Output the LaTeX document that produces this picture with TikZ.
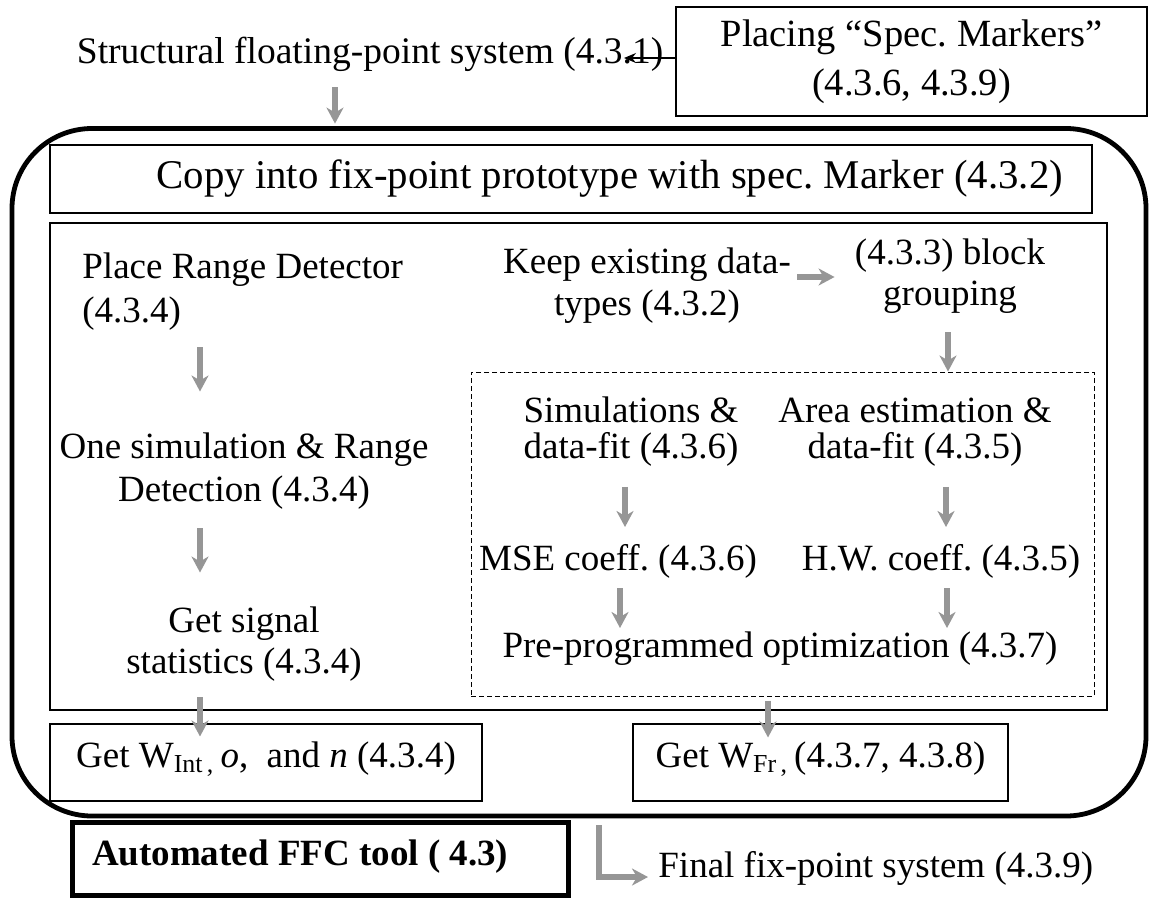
\documentclass[tikz,border=0pt]{standalone}
\usepackage{fontspec}
\setmainfont{Liberation Serif}
\usetikzlibrary{arrows.meta}
\definecolor{flowgray}{RGB}{150,150,150}
% one- or two-line labels whose base is the first baseline
\newcommand\stk[1]{\begin{tabular}[t]{@{}c@{}}#1\end{tabular}}
\newcommand\stkl[1]{\begin{tabular}[t]{@{}l@{}}#1\end{tabular}}
\newcommand\bodyfs[1]{\fontsize{18.5}{#1}\selectfont}
\frenchspacing

\begin{document}
\begin{tikzpicture}[x=0.5pt,y=-0.5pt,
  lbl/.style={inner sep=0pt, font=\bodyfs{22}},
  frame/.style={draw, line width=0.55pt, inner sep=0pt},
  flow/.style={draw=flowgray, line width=2.8pt,
    -{Stealth[length=8pt,width=8.5pt,inset=2.5pt]}},
  pointer/.style={draw, line width=0.6pt, -{Stealth[length=6pt,width=5pt]}}]
\useasboundingbox (0,0) rectangle (1149,900);

% arrow columns and rows
\coordinate (cS) at (335,0);
\coordinate (cL) at (200,0);
\coordinate (cG) at (948,0);
\coordinate (cM) at (625,0);
\coordinate (cA) at (946,0);
\coordinate (cP) at (620,0);
\coordinate (cH) at (947,0);
\coordinate (cW) at (768,0);
\coordinate (cF) at (599,0);
\coordinate (rK) at (0,277);
\coordinate (markin) at (624,58);

% input system and marker box
\node[lbl, anchor=base west, font=\fontsize{18.75}{22}\selectfont] (struct) at (76.5,63)
  {Structural floating-point system (4.3.1)};
\node[frame, line width=0.75pt, minimum width=235.5pt, minimum height=54.5pt,
  font=\fontsize{19.25}{24.5}\selectfont] (place) at (911.5,61.5)
  {\stk{Placing “Spec. Markers”\\(4.3.6, 4.3.9)}};

% the tool frame and its inner boxes
\node[draw, line width=2.4pt, rounded corners=40pt, inner sep=0pt,
  minimum width=567pt, minimum height=343.75pt] (tool) at (579,472.25) {};
\node[frame, minimum width=521pt, minimum height=34pt, text width=492pt, align=flush right,
  inner xsep=14.5pt, text height=13pt, text depth=4pt,
  font=\fontsize{20.4}{24}\selectfont] (copy) at (571,179)
  {Copy into fix-point prototype with spec. Marker (4.3.2)};
\node[frame, minimum width=528.5pt, minimum height=243.5pt] (work) at (578.5,466.5) {};
\node[frame, line width=0.5pt, dash pattern=on 2.5pt off 1.5pt,
  minimum width=311.5pt, minimum height=162pt] (opt) at (782.5,534) {};
\node[frame, minimum width=216pt, minimum height=38.5pt, text height=11pt, text depth=6.5pt,
  font=\bodyfs{22}] (wint) at (266,762.5)
  {Get W\textsubscript{Int\,,}\,\textit{o},\ \ and \textit{n} (4.3.4)};
\node[frame, minimum width=187.5pt, minimum height=38.5pt, text height=11pt, text depth=6.5pt,
  font=\bodyfs{22}] (wfr) at (820.5,762.5)
  {Get W\textsubscript{Fr\,,}\,(4.3.7, 4.3.8)};
\node[draw, line width=2.5pt, inner sep=0pt, minimum width=248pt, minimum height=36.5pt,
  text width=228pt, align=flush left, inner xsep=10pt, text height=12pt, text depth=5.5pt,
  font=\bodyfs{22}\bfseries] (ffc) at (320,858.5) {Automated FFC tool ( 4.3)};

% step labels
\node[lbl, anchor=base west, font=\bodyfs{22}] (range) at (82,278)
  {\stkl{Place Range Detector\\(4.3.4)}};
\node[lbl, anchor=base, font=\bodyfs{21.5}] (onesim) at (244,458)
  {\stk{One simulation \& Range\\Detection (4.3.4)}};
\node[lbl, anchor=base, font=\bodyfs{20.5}] (signal) at (244,632)
  {\stk{Get signal\\statistics (4.3.4)}};
\node[lbl, anchor=base, font=\bodyfs{21}] (keep) at (647,273)
  {\stk{Keep existing data-\\types (4.3.2)}};
\node[lbl, anchor=base, font=\bodyfs{20.5}] (group) at (950,264)
  {\stk{(4.3.3) block\\grouping}};
\node[lbl, anchor=base, font=\bodyfs{17.5}] (simul) at (631,422)
  {\stk{Simulations \&\\data-fit (4.3.6)}};
\node[lbl, anchor=base, font=\bodyfs{17.5}] (area) at (915,422)
  {\stk{Area estimation \&\\data-fit (4.3.5)}};
\node[lbl, anchor=base] (mse) at (618,570) {MSE coeff. (4.3.6)};
\node[lbl, anchor=base] (hw) at (941,570) {H.W. coeff. (4.3.5)};
\node[lbl, anchor=base] (pre) at (780,657) {Pre-programmed optimization (4.3.7)};
\node[lbl, anchor=base west] (final) at (658,877) {Final fix-point system (4.3.9)};

% connectors
\draw[pointer] (place.west |- markin) -- (markin);
\draw[flow] ([yshift=-12pt]struct.base -| cS) -- ([yshift=1.25pt]tool.north -| cS);
\draw[flow] ([yshift=-5.9pt]range.south -| cL) -- ([yshift=18pt]onesim.north -| cL);
\draw[flow] ([yshift=-7pt]onesim.south -| cL) -- ([yshift=15.2pt]signal.north -| cL);
\draw[flow] ([yshift=-5.85pt]signal.south -| cL) -- ([yshift=-6.5pt]wint.north -| cL);
\draw[flow] ([xshift=3pt]keep.east |- rK) -- ([xshift=-10pt]group.west |- rK);
\draw[flow] ([yshift=-7.35pt]group.south -| cG) -- (opt.north -| cG);
\draw[flow] ([yshift=-8.75pt]simul.south -| cM) -- ([yshift=21.5pt]mse.base -| cM);
\draw[flow] ([yshift=-8.75pt]area.south -| cA) -- ([yshift=21.5pt]hw.base -| cA);
\draw[flow] ([yshift=-9pt]mse.base -| cP) -- ([yshift=14.5pt]pre.base -| cP);
\draw[flow] ([yshift=-9pt]hw.base -| cH) -- ([yshift=14.5pt]pre.base -| cH);
\draw[flow] ([yshift=-2pt]opt.south -| cW) -- ([yshift=-7pt]wfr.north -| cW);
\draw[flow] ([yshift=-3.5pt]tool.south -| cF) |- ([xshift=-5pt]final.base west);
\end{tikzpicture}
\end{document}
